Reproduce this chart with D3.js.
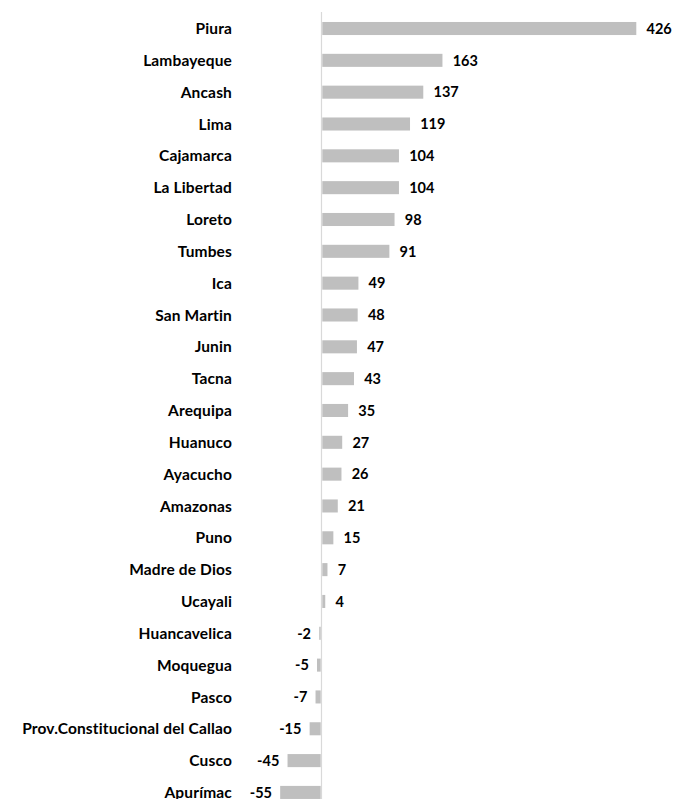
<!DOCTYPE html>
<html>
<head>
<meta charset="utf-8">
<script src="https://cdn.jsdelivr.net/npm/d3@7"></script>
<style>
  html, body { margin: 0; padding: 0; background: #fff; }
  svg text { font-family: Lato, "Open Sans", sans-serif; font-weight: bold; fill: #000; }
</style>
</head>
<body>
<svg id="chart" width="675" height="799"></svg>
<script>
const categories = ["Piura","Lambayeque","Ancash","Lima","Cajamarca","La Libertad","Loreto","Tumbes","Ica","San Martin","Junin","Tacna","Arequipa","Huanuco","Ayacucho","Amazonas","Puno","Madre de Dios","Ucayali","Huancavelica","Moquegua","Pasco","Prov.Constitucional del Callao","Cusco","Apurímac"];
const values = [426,163,137,119,104,104,98,91,49,48,47,43,35,27,26,21,15,7,4,-2,-5,-7,-15,-45,-55];

const svg = d3.select("#chart");
const x = d3.scaleLinear().domain([0, 426]).range([321.5, 635.5]);
const y = d3.scaleBand().domain(categories).range([12.6, 12.6 + 31.83 * categories.length]).paddingInner(0.59).paddingOuter(0.295);

// axis line
svg.append("line")
  .attr("x1", x(0)).attr("x2", x(0))
  .attr("y1", 12).attr("y2", 799)
  .attr("stroke", "#D9D9D9").attr("stroke-width", 1.2);

const data = categories.map((c, i) => ({ c, v: values[i] }));

svg.selectAll("rect.bar").data(data).enter().append("rect")
  .attr("class", "bar")
  .attr("x", d => Math.min(x(0), x(d.v)) + (d.v >= 0 ? 0.8 : -0.8))
  .attr("width", d => Math.abs(x(d.v) - x(0)))
  .attr("y", d => y(d.c))
  .attr("height", y.bandwidth())
  .attr("fill", "#BFBFBF");

svg.selectAll("text.val").data(data).enter().append("text")
  .attr("class", "val")
  .attr("x", d => d.v >= 0 ? x(d.v) + 11 : x(d.v) - 9)
  .attr("y", d => y(d.c) + y.bandwidth() / 2)
  .attr("dy", "0.36em")
  .attr("text-anchor", d => d.v >= 0 ? "start" : "end")
  .attr("font-size", 14.5)
  .text(d => d.v);

svg.selectAll("text.cat").data(data).enter().append("text")
  .attr("class", "cat")
  .attr("x", 232)
  .attr("y", d => y(d.c) + y.bandwidth() / 2)
  .attr("dy", "0.36em")
  .attr("text-anchor", "end")
  .attr("font-size", 15.5)
  .attr("letter-spacing", 0.15)
  .text(d => d.c);
</script>
</body>
</html>
